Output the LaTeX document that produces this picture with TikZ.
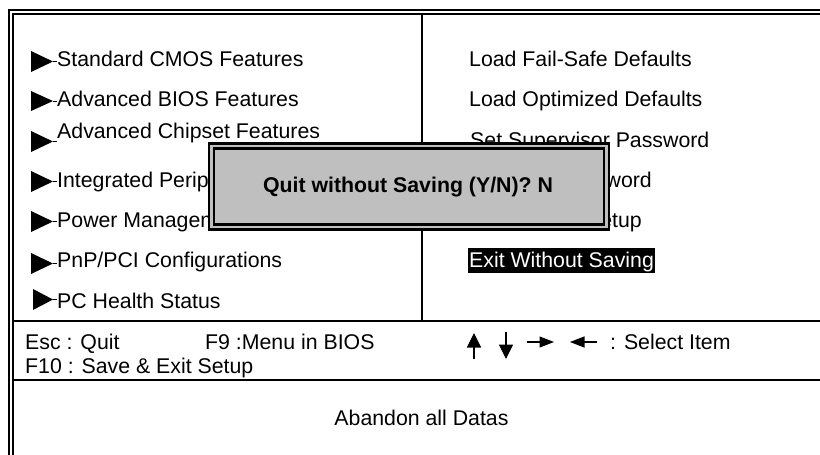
\documentclass[tikz,border=0pt]{standalone}
\usepackage{fontspec}
\setmainfont{Liberation Sans}
\usetikzlibrary{arrows.meta}
\tikzset{
  x=1pt,y=-1pt,
  label text/.style={anchor=base west,inner sep=0pt,font=\fontsize{21.3}{25}\selectfont,text=black},
  rule/.style={draw=black,line width=2pt},
  marker/.style={fill=black,draw=none},
  vert arrow/.style={draw=black,line width=1.1pt,-{Triangle[length=14.5pt,width=14pt]}},
  horiz arrow/.style={draw=black,line width=1.1pt,-{Triangle[length=14.5pt,width=11pt]}},
}
\begin{document}
\begin{tikzpicture}
\useasboundingbox (0,0) rectangle (820,455);
\fill[white] (0,0) rectangle (820,455);
% frame
\draw[rule] (820,10) -- (9.2,10) -- (9.2,455);
\draw[rule] (820,13.5) -- (12.8,13.5) -- (12.8,455);
\draw[rule] (422,13.5) -- (422,321);
\draw[rule] (12.8,321) -- (820,321);
\draw[rule] (12.8,380) -- (820,380);
% left menu
\foreach \n/\y/\t/\ya/\yb/\xa in {
 a/66/Standard CMOS Features/51/72/31,
 b/106/Advanced BIOS Features/91/111/31,
 c/138/Advanced Chipset Features/131/152/31,
 d/187/Integrated Perip/171/192/31,
 e/227/Power Managem/211/232/31,
 f/267/PnP\slash PCI Configurations/253/274/31,
 g/308/PC Health Status/289/310/33}{
  \fill[marker] (\xa,\ya) -- (53,{(\ya+\yb)/2}) -- (\xa,\yb) -- cycle;
  \draw[black,line width=.8pt] (53,{(\ya+\yb)/2}) -- (57,{(\ya+\yb)/2});
  \node[label text] (l\n) at (57,\y) {\t};
}
% right menu
\node[label text] (r1) at (469,66) {Load Fail-Safe Defaults};
\node[label text] (r2) at (469,106) {Load Optimized Defaults};
\node[label text] (r3) at (470,147) {Set Supervisor Password};
\node[label text,anchor=base east] (r4) at (652,187) {word};
\node[label text,anchor=base east] (r5) at (642,227) {etup};
\fill[black] (468,248) rectangle (655,273);
\node[label text,text=white] (r6) at (469,267) {Exit Without Saving};
% dialog
\fill[black] (207.5,142) rectangle (610,230.5);
\fill[black!25] (210,144.5) rectangle (607.7,228.2);
\fill[black] (212.5,147) rectangle (605.3,226);
\fill[black!25] (215,149.5) rectangle (603,223.3);
\node[anchor=base,inner sep=0pt,font=\fontsize{21.3}{25}\selectfont\bfseries] (q) at (408,192) {Quit without Saving (Y/N)? N};
% footer
\node[label text] (k1) at (25,349) {Esc : Quit};
\node[label text] (k2) at (205,349) {F9 :Menu in BIOS};
\node[label text] (k3) at (25,373) {F10 : Save \& Exit Setup};
\node[label text] (k4) at (610,349) {: Select Item};
\node[label text,anchor=base] (h) at (421.5,425) {Abandon all Datas};
\coordinate (u0) at (474,359); \coordinate (u1) at (474,333);
\coordinate (d0) at (506,332); \coordinate (d1) at (506,359);
\coordinate (e0) at (527,342); \coordinate (e1) at (554,342);
\coordinate (w0) at (597,342); \coordinate (w1) at (570,342);
\draw[vert arrow] (u0) -- (u1);
\draw[vert arrow] (d0) -- (d1);
\draw[horiz arrow] (e0) -- (e1);
\draw[horiz arrow] (w0) -- (w1);
\end{tikzpicture}
\end{document}
